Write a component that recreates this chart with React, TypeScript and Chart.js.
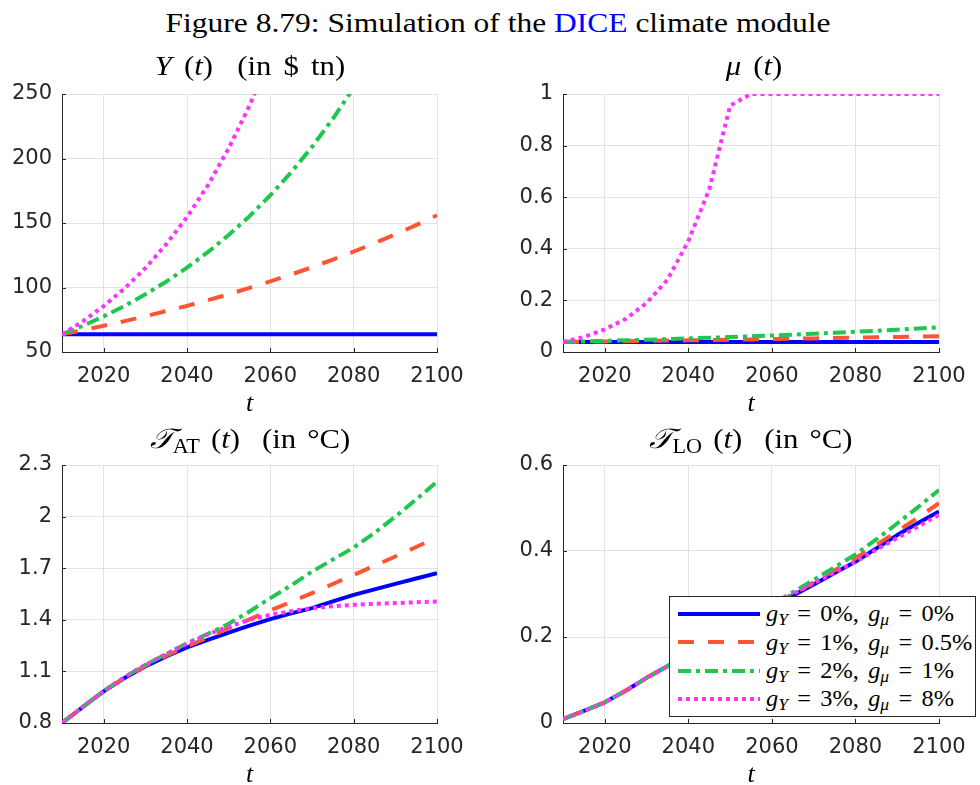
import React, { useEffect, useRef } from "react";
import { Chart, registerables } from "chart.js";
Chart.register(...registerables);

// ---------- data ----------
const years = [2010, 2015, 2020, 2025, 2030, 2035, 2040, 2045, 2050, 2055, 2060, 2065, 2070, 2075, 2080, 2085, 2090, 2095, 2100];
const xTicks = [2020, 2040, 2060, 2080, 2100];

// Y(t) in $ tn
const outputA = [63.7, 63.7, 63.7, 63.7, 63.7, 63.7, 63.7, 63.7, 63.7, 63.7, 63.7, 63.7, 63.7, 63.7, 63.7, 63.7, 63.7, 63.7, 63.7];
const outputB = [63.7, 66.9, 70.4, 73.9, 77.7, 81.7, 85.8, 90.2, 94.8, 99.7, 104.7, 110.1, 115.7, 121.6, 127.8, 134.3, 141.2, 148.4, 156.0];
const outputC = [63.7, 70.3, 77.6, 85.7, 94.7, 104.5, 115.4, 127.4, 140.7, 155.3, 171.5, 189.3, 209.0, 230.8, 254.8, 281.3, 310.6, 342.9, 378.6];
const outputD = [63.7, 73.8, 85.6, 99.2, 115.0, 133.4, 154.6, 179.2, 207.8, 240.9, 279.3, 323.8, 375.3, 435.1, 504.4, 584.7, 677.8, 785.8, 911.0];
const outputTicks = [50, 100, 150, 200, 250];

// mu(t)
const muA = [0.039, 0.039, 0.039, 0.039, 0.039, 0.039, 0.039, 0.039, 0.039, 0.039, 0.039, 0.039, 0.039, 0.039, 0.039, 0.039, 0.039, 0.039, 0.039];
const muB = [0.039, 0.040, 0.041, 0.042, 0.0431, 0.0442, 0.0453, 0.0464, 0.0476, 0.0488, 0.05, 0.0513, 0.0526, 0.0539, 0.0553, 0.0567, 0.0581, 0.0596, 0.0611];
const muC = [0.039, 0.041, 0.0431, 0.0453, 0.0476, 0.05, 0.0526, 0.0552, 0.0581, 0.061, 0.0641, 0.0674, 0.0708, 0.0744, 0.0782, 0.0822, 0.0864, 0.0908, 0.0955];
const muD = [0.039, 0.058, 0.088, 0.128, 0.19, 0.28, 0.43, 0.63, 0.955, 1, 1, 1, 1, 1, 1, 1, 1, 1, 1];
const muTicks = [0, 0.2, 0.4, 0.6, 0.8, 1];

// T_AT(t)
const tatA = [0.8, 0.893, 0.984, 1.061, 1.129, 1.187, 1.239, 1.284, 1.326, 1.366, 1.404, 1.437, 1.468, 1.507, 1.545, 1.577, 1.609, 1.64, 1.671];
const tatB = [0.8, 0.893, 0.985, 1.063, 1.132, 1.191, 1.245, 1.297, 1.352, 1.403, 1.454, 1.504, 1.555, 1.608, 1.661, 1.714, 1.768, 1.823, 1.88];
const tatC = [0.8, 0.894, 0.986, 1.066, 1.138, 1.2, 1.264, 1.318, 1.377, 1.448, 1.526, 1.6, 1.68, 1.75, 1.82, 1.905, 2.0, 2.1, 2.203];
const tatD = [0.8, 0.894, 0.986, 1.066, 1.138, 1.202, 1.26, 1.315, 1.361, 1.4, 1.429, 1.45, 1.468, 1.479, 1.487, 1.493, 1.497, 1.502, 1.506];
const tatTicks = [0.8, 1.1, 1.4, 1.7, 2, 2.3];

// T_LO(t)
const tloA = [0.009, 0.028, 0.048, 0.075, 0.105, 0.132, 0.16, 0.188, 0.216, 0.243, 0.27, 0.296, 0.322, 0.349, 0.375, 0.406, 0.437, 0.465, 0.492];
const tloB = [0.009, 0.028, 0.048, 0.075, 0.105, 0.132, 0.16, 0.188, 0.216, 0.244, 0.272, 0.299, 0.327, 0.355, 0.383, 0.414, 0.446, 0.478, 0.511];
const tloC = [0.009, 0.028, 0.048, 0.075, 0.105, 0.132, 0.161, 0.189, 0.218, 0.247, 0.276, 0.304, 0.333, 0.362, 0.392, 0.427, 0.464, 0.502, 0.542];
const tloD = [0.009, 0.028, 0.048, 0.075, 0.105, 0.132, 0.161, 0.189, 0.217, 0.245, 0.273, 0.3, 0.325, 0.35, 0.375, 0.403, 0.43, 0.457, 0.484];
const tloTicks = [0, 0.2, 0.4, 0.6];

// ---------- styles ----------
const SERIES_STYLE = [
  { color: "#0000ff", dash: [] as number[], order: 3, gY: "0%", gMu: "0%" },
  { color: "#ff5533", dash: [16, 14], order: 2, gY: "1%", gMu: "0.5%" },
  { color: "#1fc64f", dash: [13, 5, 4, 5], order: 1, gY: "2%", gMu: "1%" },
  { color: "#ff33ff", dash: [4, 4], order: 0, gY: "3%", gMu: "8%" },
];

const SERIF = "'Liberation Serif', 'Times New Roman', serif";
const SANS = "'DejaVu Sans', sans-serif";

const innerTicks = {
  id: "innerTicks",
  beforeDatasetsDraw(chart: any) {
    const { ctx, chartArea: a, scales } = chart;
    const x = scales.x, y = scales.y;
    ctx.save();
    ctx.strokeStyle = "#262626";
    ctx.lineWidth = 1;
    x.ticks.forEach((t: any) => {
      const px = Math.round(x.getPixelForValue(t.value)) + 0.5;
      ctx.beginPath();
      ctx.moveTo(px, a.bottom);
      ctx.lineTo(px, a.bottom - 4);
      ctx.stroke();
    });
    y.ticks.forEach((t: any) => {
      const py = Math.round(y.getPixelForValue(t.value)) + 0.5;
      ctx.beginPath();
      ctx.moveTo(a.left, py);
      ctx.lineTo(a.left + 4, py);
      ctx.stroke();
    });
    ctx.restore();
  },
};

type Rect = { l: number; t: number; r: number; b: number };
type Box = { x: number; y: number; w: number; h: number };

function Panel({ series, yTicks, plot, box }: { series: number[][]; yTicks: number[]; plot: Rect; box: Box }) {
  const ref = useRef<HTMLCanvasElement>(null);
  useEffect(() => {
    const cv = ref.current!;
    const yw = plot.l - box.x;
    const xh = box.y + box.h - plot.b;
    const chart = new Chart(cv, {
      type: "line",
      data: {
        datasets: series.map((vals, i) => ({
          data: years.map((yr, k) => ({ x: yr, y: vals[k] })),
          borderColor: SERIES_STYLE[i].color,
          borderWidth: 4,
          borderDash: SERIES_STYLE[i].dash,
          borderCapStyle: "butt",
          borderJoinStyle: "round",
          pointRadius: 0,
          tension: 0,
          fill: false,
          clip: 0,
          order: SERIES_STYLE[i].order,
        })) as any,
      },
      options: {
        animation: false,
        responsive: false,
        devicePixelRatio: 1,
        layout: { padding: { top: plot.t - box.y, right: box.x + box.w - plot.r, left: 0, bottom: 0 } },
        plugins: { legend: { display: false }, tooltip: { enabled: false }, title: { display: false } },
        scales: {
          x: {
            type: "linear",
            min: years[0],
            max: years[years.length - 1],
            afterBuildTicks: (s: any) => { s.ticks = xTicks.map((v) => ({ value: v })); },
            afterFit: (s: any) => { s.height = xh; },
            grid: { color: "#e3e3e3", lineWidth: 1, drawTicks: false },
            border: { color: "#262626", width: 1 },
            ticks: { font: { family: SANS, size: 21 }, color: "#262626", padding: 12, maxRotation: 0, autoSkip: false, callback: (v: any) => String(v) },
          },
          y: {
            type: "linear",
            min: yTicks[0],
            max: yTicks[yTicks.length - 1],
            afterBuildTicks: (s: any) => { s.ticks = yTicks.map((v) => ({ value: v })); },
            afterFit: (s: any) => { s.width = yw; },
            grid: { color: "#e3e3e3", lineWidth: 1, drawTicks: false },
            border: { color: "#262626", width: 1 },
            ticks: { font: { family: SANS, size: 21 }, color: "#262626", padding: 10, autoSkip: false, callback: (v: any) => String(v) },
          },
        },
      } as any,
      plugins: [innerTicks],
    });
    return () => chart.destroy();
  }, []);
  return (
    <canvas
      ref={ref}
      width={box.w}
      height={box.h}
      style={{ position: "absolute", left: box.x, top: box.y, width: box.w, height: box.h }}
    />
  );
}

function Text({ x, baseline, size, children, color = "#000", sx = 1, ws = 0 }: any) {
  return (
    <div
      style={{
        position: "absolute",
        left: x,
        top: baseline - 0.838 * size,
        fontFamily: SERIF,
        fontSize: size,
        lineHeight: `${size}px`,
        transform: `translateX(-50%) scaleX(${sx})`,
        whiteSpace: "nowrap",
        wordSpacing: ws,
        color,
      }}
    >
      {children}
    </div>
  );
}

const I = ({ children }: any) => <i>{children}</i>;
const Sub = ({ children }: any) => (
  <span style={{ fontSize: "0.72em", verticalAlign: "-0.25em", lineHeight: 0 }}>{children}</span>
);

function LegendSample({ color, dash }: { color: string; dash: number[] }) {
  return (
    <svg width={82} height={8} style={{ display: "block" }}>
      <line x1={0} y1={4} x2={82} y2={4} stroke={color} strokeWidth={4} strokeDasharray={dash.length ? dash.join(" ") : undefined} />
    </svg>
  );
}

export default function App() {
  const TL: Rect = { l: 62, t: 94, r: 437, b: 352 };
  const TR: Rect = { l: 563, t: 94, r: 939, b: 352 };
  const BL: Rect = { l: 62, t: 465, r: 437, b: 723 };
  const BR: Rect = { l: 563, t: 465, r: 939, b: 723 };
  const legendRows = [621.7, 650, 678.3, 706.7];
  return (
    <div style={{ position: "absolute", left: 0, top: 0, width: 980, height: 785, background: "#fff", overflow: "hidden" }}>
      <Panel series={[outputA, outputB, outputC, outputD]} yTicks={outputTicks} plot={TL} box={{ x: 0, y: 64, w: 480, h: 336 }} />
      <Panel series={[muA, muB, muC, muD]} yTicks={muTicks} plot={TR} box={{ x: 490, y: 64, w: 490, h: 336 }} />
      <Panel series={[tatA, tatB, tatC, tatD]} yTicks={tatTicks} plot={BL} box={{ x: 0, y: 435, w: 480, h: 335 }} />
      <Panel series={[tloA, tloB, tloC, tloD]} yTicks={tloTicks} plot={BR} box={{ x: 490, y: 435, w: 490, h: 335 }} />

      <Text x={498} baseline={32.5} size={28} sx={1.125}>
        Figure 8.79: Simulation of the <span style={{ color: "#0000ff" }}>DICE</span> climate module
      </Text>

      <Text x={249.5} baseline={75} size={28} sx={1.1} ws={4}>
        <I>Y</I> (<I>t</I>)&nbsp; (in $ tn)
      </Text>
      <Text x={754} baseline={75} size={28} sx={1.1} ws={4}>
        <I>μ</I> (<I>t</I>)
      </Text>
      <Text x={249.5} baseline={448} size={28} sx={1.1} ws={3}>
        <I>𝒯</I><Sub>AT</Sub> (<I>t</I>)&nbsp; (in °C)
      </Text>
      <Text x={751} baseline={448} size={28} sx={1.1} ws={3}>
        <I>𝒯</I><Sub>LO</Sub> (<I>t</I>)&nbsp; (in °C)
      </Text>

      <Text x={249.5} baseline={412} size={26}><I>t</I></Text>
      <Text x={751} baseline={412} size={26}><I>t</I></Text>
      <Text x={249.5} baseline={783} size={26}><I>t</I></Text>
      <Text x={751} baseline={783} size={26}><I>t</I></Text>

      <div
        style={{
          position: "absolute",
          left: 669,
          top: 596,
          width: 307,
          height: 121,
          boxSizing: "border-box",
          border: "1px solid #262626",
          background: "#fff",
        }}
      />
      {SERIES_STYLE.map((s, i) => (
        <React.Fragment key={i}>
          <div style={{ position: "absolute", left: 678, top: legendRows[i] - 7.7 - 4 }}>
            <LegendSample color={s.color} dash={s.dash} />
          </div>
          <div
            style={{
              position: "absolute",
              left: 766,
              top: legendRows[i] - 0.838 * 23,
              fontFamily: SERIF,
              fontSize: 23,
              lineHeight: "23px",
              whiteSpace: "nowrap",
              wordSpacing: 3,
              transform: "scaleX(1.06)",
              transformOrigin: "left center",
            }}
          >
            <I>g</I><Sub><I>Y</I></Sub> = {s.gY}, <I>g</I><Sub><I>μ</I></Sub> = {s.gMu}
          </div>
        </React.Fragment>
      ))}
    </div>
  );
}
